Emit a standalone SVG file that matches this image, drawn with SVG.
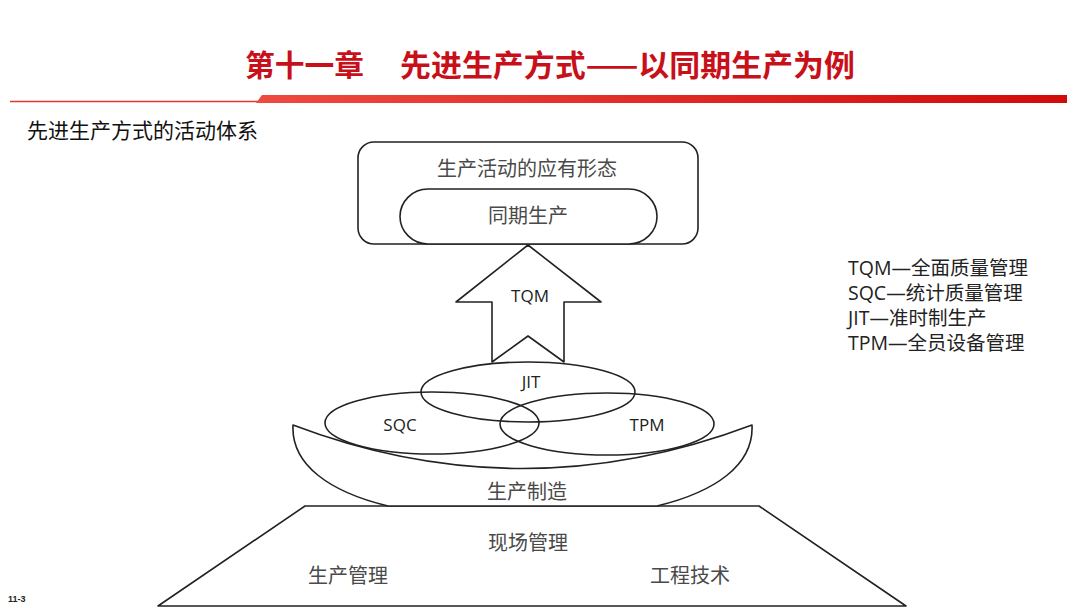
<svg xmlns="http://www.w3.org/2000/svg" width="1080" height="608" viewBox="0 0 1080 608">
<defs>
<linearGradient id="bar" x1="0" y1="0" x2="1" y2="0">
<stop offset="0" stop-color="#ee4a40"/>
<stop offset="1" stop-color="#d20a0a"/>
</linearGradient>
</defs>
<style>
.ln{fill:#fff;stroke:#222;stroke-width:1.6;stroke-linejoin:round}
.lnn{fill:none;stroke:#222;stroke-width:1.6}
.cn{font-family:"Noto Sans CJK SC","Noto Sans",sans-serif;font-size:20px;fill:#4a4a4a;text-anchor:middle}
.en{font-family:"Open Sans","Noto Sans CJK SC",sans-serif;font-size:17px;fill:#222;text-anchor:middle}
.lg{font-family:"Open Sans","Noto Sans CJK SC",sans-serif;font-size:19.5px;fill:#222}
.tt{font-family:"Noto Sans CJK SC",sans-serif;font-size:30px;font-weight:bold;fill:#c8101a}
</style>
<rect width="1080" height="608" fill="#fff"/>
<g id="header">
<text class="tt" x="245" y="76" textLength="119" lengthAdjust="spacingAndGlyphs">第十一章</text>
<text class="tt" x="400" y="76" textLength="455" lengthAdjust="spacingAndGlyphs">先进生产方式——以同期生产为例</text>
<line x1="10" y1="101.5" x2="260" y2="101.5" stroke="#e03a30" stroke-width="1.6"/>
<polygon points="256,103 262,95 1067,95 1067,103" fill="url(#bar)"/>
<text x="27" y="138" font-family="Noto Sans CJK SC,sans-serif" font-size="21" fill="#111">先进生产方式的活动体系</text>
</g>
<g id="base">
<polygon class="ln" points="305,506 759,506 906,606 158,606"/>
<text class="cn" x="528" y="550">现场管理</text>
<text class="cn" x="348" y="583">生产管理</text>
<text class="cn" x="690" y="583">工程技术</text>
</g>
<g id="bowl">
<path class="ln" d="M293,425 Q522,512 752,425 C754,465 715,492 657,506 L388,506 C330,492 291,465 293,425 Z"/>
<text class="cn" x="527" y="499">生产制造</text>
</g>
<g id="top">
<rect class="ln" x="358" y="142" width="340" height="102" rx="16"/>
<text class="cn" x="527" y="176">生产活动的应有形态</text>
<rect class="ln" x="400" y="189" width="257" height="55" rx="28"/>
<text class="cn" x="528" y="223">同期生产</text>
</g>
<g id="tqm">
<polygon class="ln" points="528,245 601,302 564,302 564,362 528,336 492,362 492,302 456,302"/>
<text class="en" x="530" y="302">TQM</text>
</g>
<g id="circles">
<ellipse class="lnn" cx="528" cy="392" rx="107" ry="30"/>
<ellipse class="lnn" cx="432" cy="423" rx="107" ry="31"/>
<ellipse class="lnn" cx="607" cy="424" rx="107" ry="31"/>
<text class="en" x="531" y="388">JIT</text>
<text class="en" x="400" y="431">SQC</text>
<text class="en" x="647" y="431">TPM</text>
</g>
<g id="legend">
<text class="lg" x="848" y="275">TQM—全面质量管理</text>
<text class="lg" x="848" y="300">SQC—统计质量管理</text>
<text class="lg" x="848" y="325">JIT—准时制生产</text>
<text class="lg" x="848" y="350">TPM—全员设备管理</text>
</g>
<text x="8" y="602" font-family="Liberation Sans,sans-serif" font-size="9" font-weight="bold" fill="#222">11-3</text>
</svg>
